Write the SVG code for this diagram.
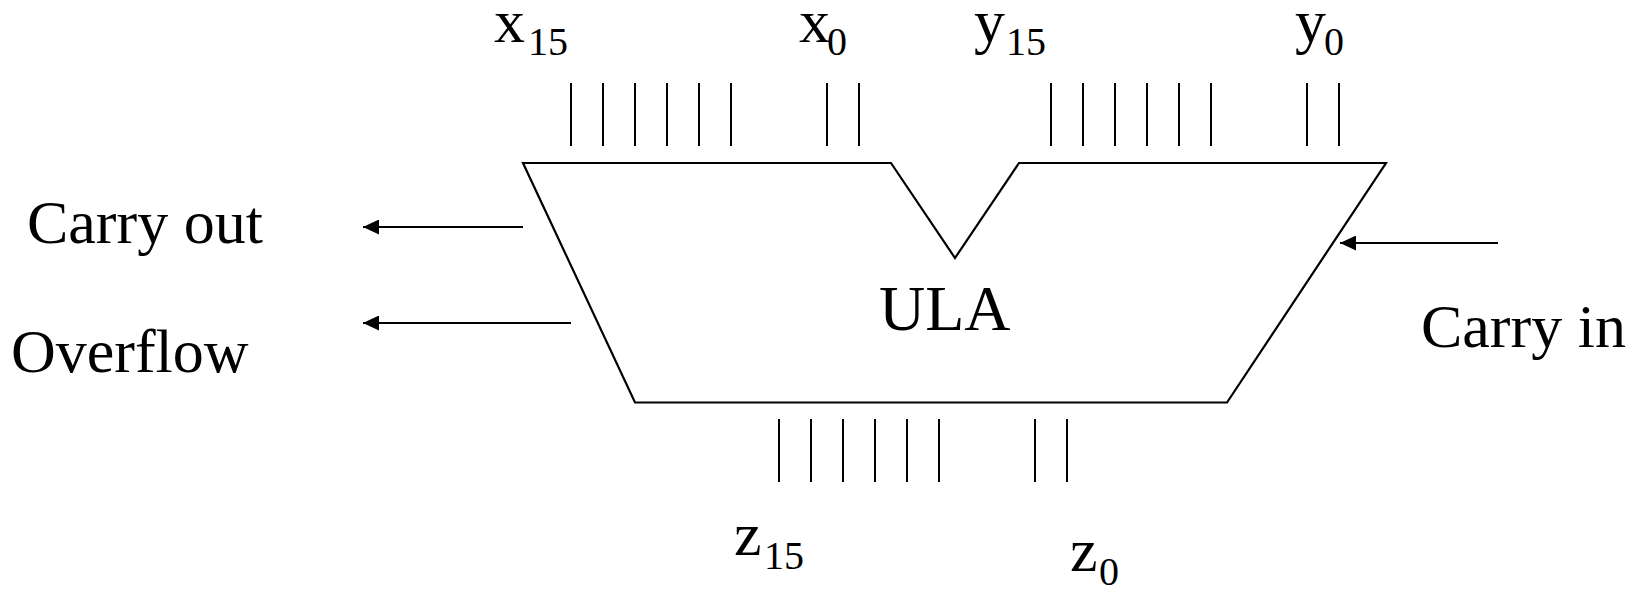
<svg xmlns="http://www.w3.org/2000/svg" width="1650" height="589" viewBox="0 0 1650 589">
<style>
.t{font-family:"Liberation Serif","Times New Roman",serif;font-size:62px;fill:#000}
.s{font-size:40px}
.edge{fill:none;stroke:#000;stroke-width:2.2;stroke-linejoin:miter}
.tick{stroke:#000;stroke-width:2}
.arr{stroke:#000;stroke-width:2.2;marker-end:url(#ah)}
</style>
<defs>
<marker id="ah" markerUnits="userSpaceOnUse" markerWidth="17" markerHeight="15" refX="16" refY="7.5" orient="auto">
<path d="M0,0 L16,7.5 L0,15 z" fill="#000"/>
</marker>
</defs>
<rect width="1650" height="589" fill="#fff"/>
<g id="ula">
<path class="edge" d="M523,163 L891,163 L955,258 L1019,163 L1386,163 L1227,402.5 L635,402.5 Z"/>
<text class="t" x="879" y="330" style="font-size:64px">ULA</text>
</g>
<g id="x-bus">
<g class="tick">
<line x1="571" y1="83" x2="571" y2="146"/><line x1="603" y1="83" x2="603" y2="146"/><line x1="635" y1="83" x2="635" y2="146"/><line x1="667" y1="83" x2="667" y2="146"/><line x1="699" y1="83" x2="699" y2="146"/><line x1="731" y1="83" x2="731" y2="146"/><line x1="827" y1="83" x2="827" y2="146"/><line x1="859" y1="83" x2="859" y2="146"/>
</g>
<text class="t" x="494" y="42">x<tspan class="s" x="528" y="55">15</tspan></text>
<text class="t" x="799" y="42">x<tspan class="s" x="827" y="55">0</tspan></text>
</g>
<g id="y-bus">
<g class="tick">
<line x1="1051" y1="83" x2="1051" y2="146"/><line x1="1083" y1="83" x2="1083" y2="146"/><line x1="1115" y1="83" x2="1115" y2="146"/><line x1="1147" y1="83" x2="1147" y2="146"/><line x1="1179" y1="83" x2="1179" y2="146"/><line x1="1211" y1="83" x2="1211" y2="146"/><line x1="1307" y1="83" x2="1307" y2="146"/><line x1="1339" y1="83" x2="1339" y2="146"/>
</g>
<text class="t" x="974" y="42">y<tspan class="s" x="1006" y="55">15</tspan></text>
<text class="t" x="1295" y="42">y<tspan class="s" x="1324" y="55">0</tspan></text>
</g>
<g id="z-bus">
<g class="tick">
<line x1="779" y1="419" x2="779" y2="482"/><line x1="811" y1="419" x2="811" y2="482"/><line x1="843" y1="419" x2="843" y2="482"/><line x1="875" y1="419" x2="875" y2="482"/><line x1="907" y1="419" x2="907" y2="482"/><line x1="939" y1="419" x2="939" y2="482"/><line x1="1035" y1="419" x2="1035" y2="482"/><line x1="1067" y1="419" x2="1067" y2="482"/>
</g>
<text class="t" x="734" y="555">z<tspan class="s" x="764" y="569">15</tspan></text>
<text class="t" x="1070" y="571">z<tspan class="s" x="1099" y="585">0</tspan></text>
</g>
<g id="carry-out"><text class="t" x="27" y="243">Carry out</text></g>
<g id="overflow"><text class="t" x="11" y="372">Overflow</text></g>
<g id="carry-in"><text class="t" x="1421" y="347">Carry in</text></g>
<g id="connectors">
<line class="arr" x1="523" y1="227" x2="363" y2="227"/>
<line class="arr" x1="571" y1="323" x2="363" y2="323"/>
<line class="arr" x1="1498" y1="243" x2="1340" y2="243"/>
</g>
</svg>
